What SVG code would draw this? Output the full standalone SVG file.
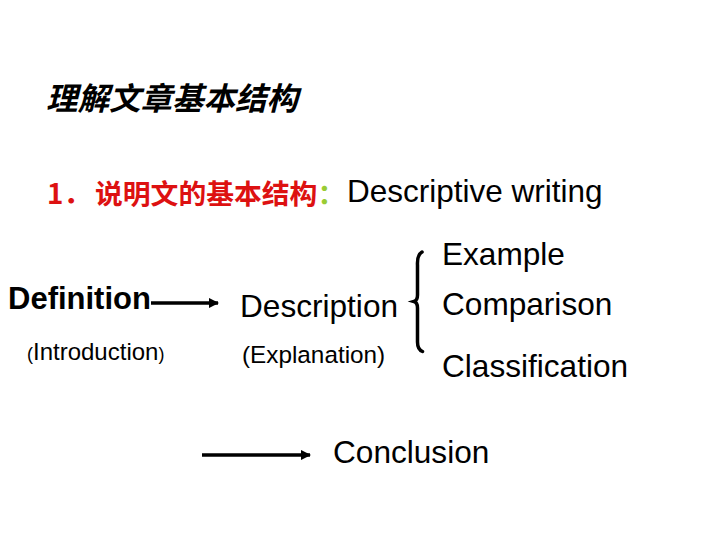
<svg xmlns="http://www.w3.org/2000/svg" width="720" height="540" viewBox="0 0 720 540">
<style>
.en{font-family:"Liberation Sans",Arial,sans-serif;fill:#000;}
.cn{font-family:"Noto Sans CJK SC",sans-serif;font-weight:bold;}
.lbl{font-size:31.6px;}
.sub{font-size:24.3px;}
.conn{stroke:#000;stroke-width:3.5;fill:none;}
</style>
<defs>
<marker id="ah" viewBox="0 0 10 10" refX="9" refY="5" markerWidth="3" markerHeight="3" orient="auto" markerUnits="strokeWidth">
<path d="M0,0 L10,5 L0,10 Z" fill="#000"/>
</marker>
</defs>
<rect width="720" height="540" fill="#fff"/>
<g id="title">
<text class="cn" x="46" y="110" font-size="31.5" font-style="italic" font-weight="900" fill="#000">理解文章基本结构</text>
</g>
<g id="heading">
<text class="cn" y="204" font-size="27.8" fill="#dd1111"><tspan x="47">1．</tspan><tspan x="95">说明文的基本结构</tspan><tspan fill="#99cc33">：</tspan></text>
<text class="en" x="347" y="202" font-size="31.5">Descriptive writing</text>
</g>
<g id="definition">
<text class="en" x="8" y="309" font-size="31" font-weight="bold">Definition</text>
<text class="en" x="27" y="360" font-size="24"><tspan font-size="18">(</tspan>Introduction<tspan font-size="18">)</tspan></text>
</g>
<g id="description">
<text class="en lbl" x="240" y="317">Description</text>
<text class="en sub" x="242" y="363">(Explanation)</text>
</g>
<g id="example"><text class="en lbl" x="442" y="265">Example</text></g>
<g id="comparison"><text class="en lbl" x="442" y="315">Comparison</text></g>
<g id="classification"><text class="en lbl" x="442" y="377">Classification</text></g>
<g id="conclusion"><text class="en lbl" x="333" y="463">Conclusion</text></g>
<g id="connectors">
<line class="conn" x1="151" y1="303" x2="218" y2="303" marker-end="url(#ah)"/>
<line class="conn" x1="202" y1="455" x2="310" y2="455" marker-end="url(#ah)"/>
<path class="conn" stroke-width="4.5" stroke-linecap="round" d="M422,252 Q417,255 417.5,265 L417.5,295 Q417.5,300.5 414,301.5 Q417.5,302.5 417.5,308 L417.5,342 Q417.5,349.5 422.5,351.5"/>
</g>
</svg>
